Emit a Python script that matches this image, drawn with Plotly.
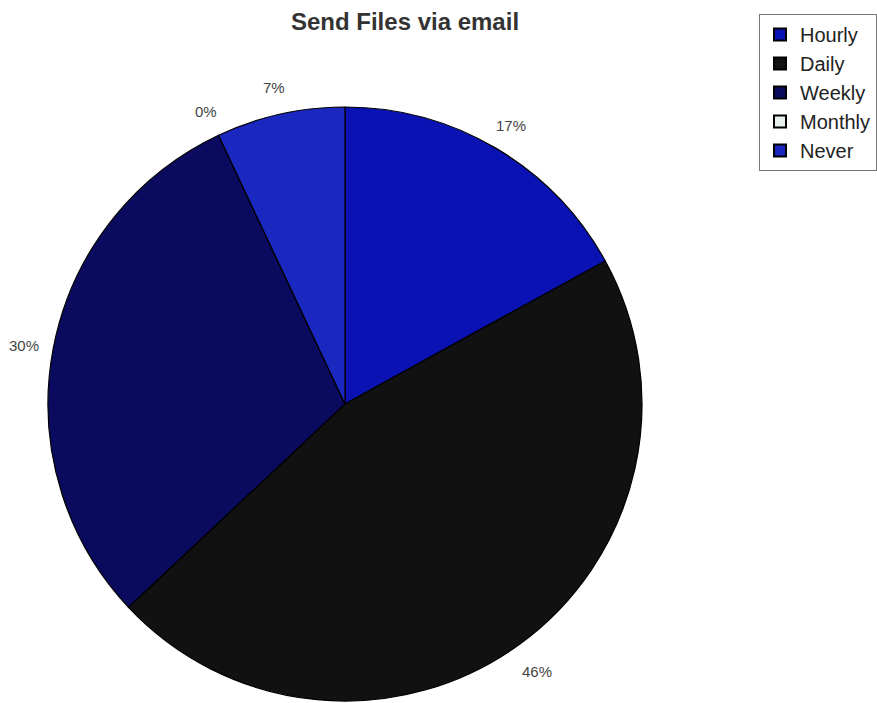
import math
import plotly.graph_objects as go

categories = ["Hourly", "Daily", "Weekly", "Monthly", "Never"]
values = [17, 46, 30, 0, 7]
colors = ["#0a12b4", "#111111", "#0a0a5e", "#e8f0f0", "#1a28c0"]

W, H = 877, 703
cx, cy, r = 345, 404, 297
label_r = 327

fig = go.Figure(go.Pie(
    labels=categories,
    values=values,
    sort=False,
    direction="clockwise",
    rotation=0,
    marker=dict(colors=colors, line=dict(color="#000000", width=1.2)),
    textinfo="none",
    domain=dict(x=[(cx - r) / W, (cx + r) / W], y=[1 - (cy + r) / H, 1 - (cy - r) / H]),
    showlegend=True,
    hoverinfo="label+percent",
))

# percentage labels placed outside at each slice's mid-angle (derived from data)
total = sum(values)
cum = 0
annotations = []
for v in values:
    mid = (cum + v / 2) / total * 2 * math.pi
    cum += v
    px = cx + label_r * math.sin(mid)
    py = cy - label_r * math.cos(mid) + 3
    annotations.append(dict(
        x=px / W, y=1 - py / H, xref="paper", yref="paper",
        text=f"{round(100 * v / total)}%", showarrow=False,
        xanchor="center", yanchor="middle",
        font=dict(family="Liberation Sans, Arial", size=15, color="#444444"),
    ))

fig.update_layout(
    width=W, height=H,
    margin=dict(l=0, r=0, t=0, b=0, autoexpand=False),
    paper_bgcolor="white",
    plot_bgcolor="white",
    annotations=annotations,
    title=dict(text="<b>Send Files via email</b>", x=405 / W, xanchor="center",
               y=1 - 22 / H, yanchor="middle",
               font=dict(family="Liberation Sans, Arial", size=24, color="#333333")),
    legend=dict(x=1, y=1 - 14 / H, xanchor="right", yanchor="top",
                bordercolor="#777777", borderwidth=1, bgcolor="white",
                font=dict(family="Liberation Sans, Arial", size=20, color="#222222"),
                itemsizing="constant", itemwidth=30, tracegroupgap=0),
)

fig.write_html("out.html")
